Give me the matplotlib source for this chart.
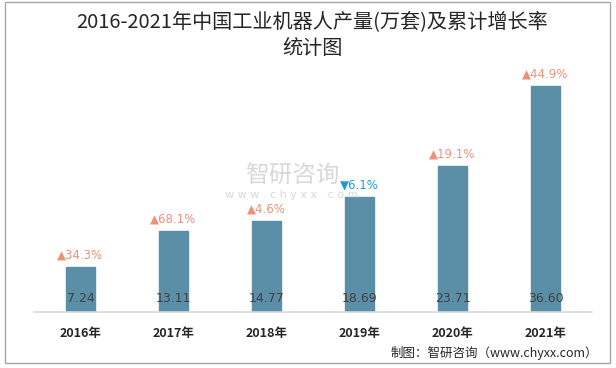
import matplotlib
matplotlib.use("Agg")
import matplotlib.pyplot as plt
from matplotlib.patches import Rectangle

plt.rcParams['font.family'] = ['Noto Sans CJK SC', 'DejaVu Sans']

years = ['2016年', '2017年', '2018年', '2019年', '2020年', '2021年']
output = [7.24, 13.11, 14.77, 18.69, 23.71, 36.60]
growth = [34.3, 68.1, 4.6, -6.1, 19.1, 44.9]

W, H = 616, 368
fig = plt.figure(figsize=(W / 100, H / 100), dpi=100)
fig.patch.set_facecolor('white')

# border
fig.patches.append(Rectangle((5 / W, 5 / H), 605 / W, 361 / H, transform=fig.transFigure,
                             fill=False, edgecolor='#A6A6A6', linewidth=1.0))

ax_left, ax_right = 34, 592
ax_bottom_px, ax_top_px = 312, 65
ax = fig.add_axes([ax_left / W, (H - ax_bottom_px) / H, (ax_right - ax_left) / W,
                   (ax_bottom_px - ax_top_px) / H])
ax.set_xlim(-0.5, len(years) - 0.5)
ax.set_ylim(0, 40)

x = list(range(len(years)))
ax.bar(x, output, width=0.31, color='#5B8FA8', edgecolor='#5B8FA8', zorder=2)

for i, (v, g) in enumerate(zip(output, growth)):
    ax.text(i, 1.2, f'{v:.2f}', ha='center', va='bottom', fontsize=9,
            color='#404040', family=['DejaVu Sans'], zorder=3)
    if g >= 0:
        txt, col = f'▲{g:.1f}%', '#F0907A'
    else:
        txt, col = f'▼{abs(g):.1f}%', '#1E9BD7'
    ax.annotate(txt, (i, v), xytext=(0, 4), textcoords='offset points',
                ha='center', va='bottom', fontsize=8.5, color=col,
                family=['DejaVu Sans'], zorder=3)

for s in ['top', 'right', 'left']:
    ax.spines[s].set_visible(False)
ax.spines['bottom'].set_color('#D9D9D9')
ax.spines['bottom'].set_linewidth(1.2)
ax.set_yticks([])
ax.set_xticks(x)
ax.set_xticklabels(years, fontsize=9, fontweight='bold', color='#262626')
ax.tick_params(axis='x', length=0, pad=11)

# watermark
fig.text(292 / W, (H - 176) / H, '智研咨询', ha='center', va='center', fontsize=17,
         color='#BFBFBF', alpha=0.6)
fig.text(292 / W, (H - 195) / H, 'w w w . c h y x x . c o m', ha='center', va='center',
         fontsize=8, color='#BFBFBF', alpha=0.6, family=['DejaVu Sans'])

fig.text(312 / W, (H - 22) / H, '2016-2021年中国工业机器人产量(万套)及累计增长率',
         ha='center', va='center', fontsize=14.5, color='#262626')
fig.text(312 / W, (H - 48) / H, '统计图', ha='center', va='center', fontsize=14.5,
         color='#262626')
fig.text(598 / W, (H - 353) / H, '制图：智研咨询（www.chyxx.com）', ha='right',
         va='center', fontsize=9, color='#262626')

fig.savefig('out.png', dpi=100, facecolor='white')
